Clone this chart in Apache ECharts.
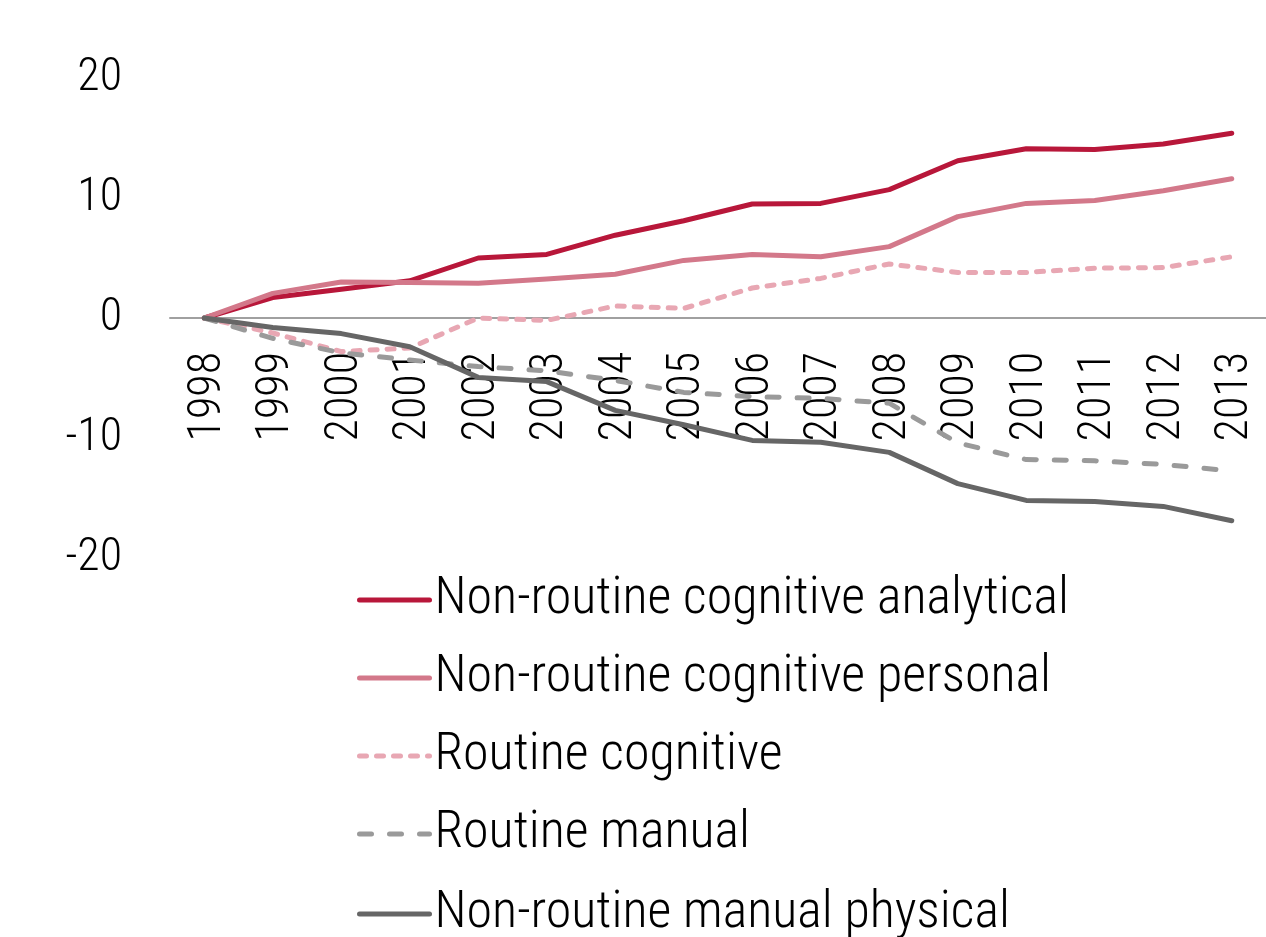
<!DOCTYPE html>
<html>
<head>
<meta charset="utf-8">
<script src="https://cdn.jsdelivr.net/npm/echarts@6/dist/echarts.min.js"></script>
<style>
html,body{margin:0;padding:0;background:#fff;}
#chart{width:1266px;height:937px;}
</style>
</head>
<body>
<div id="chart"></div>
<script>
const years = ['1998','1999','2000','2001','2002','2003','2004','2005','2006','2007','2008','2009','2010','2011','2012','2013'];
const nrAnalytical = [0, 1.7, 2.4, 3.1, 5.0, 5.3, 6.9, 8.1, 9.5, 9.55, 10.7, 13.1, 14.1, 14.05, 14.5, 15.4];
const nrPersonal = [0, 2.05, 3.0, 2.95, 2.9, 3.25, 3.65, 4.8, 5.3, 5.1, 5.95, 8.45, 9.55, 9.8, 10.6, 11.6];
const routineCognitive = [0, -1.25, -2.8, -2.5, 0, -0.2, 1.0, 0.8, 2.5, 3.3, 4.5, 3.8, 3.8, 4.15, 4.2, 5.1];
const routineManual = [0, -1.7, -2.9, -3.5, -4.05, -4.4, -5.2, -6.2, -6.55, -6.7, -7.1, -10.4, -11.8, -11.9, -12.2, -12.75];
const nrManualPhysical = [0, -0.8, -1.3, -2.4, -4.95, -5.3, -7.7, -8.9, -10.2, -10.35, -11.2, -13.8, -15.2, -15.3, -15.7, -16.9];
const seriesNames = ['Non-routine cognitive analytical','Non-routine cognitive personal','Routine cognitive','Routine manual','Non-routine manual physical'];
const yTicks = [-20, -10, 0, 10, 20];

const FONT = "'Roboto Condensed', 'DejaVu Sans Condensed', Roboto, sans-serif";

function mk(name, data, color, dash) {
  return {
    name: name, type: 'line', data: data, symbol: 'none', smooth: false,
    lineStyle: { color: color, width: 5, type: dash || 'solid', cap: 'round', join: 'round' },
    itemStyle: { color: color }
  };
}

const legendCommon = {
  orient: 'vertical', left: 357, padding: 0, itemWidth: 70, itemHeight: 14, itemGap: 22,
  itemStyle: { opacity: 0 },
  lineStyle: { width: 5, cap: 'round' },
  textStyle: { fontSize: 52, fontWeight: 300, fontFamily: FONT, color: '#000', lineHeight: 56 }
};

const chart = echarts.init(document.getElementById('chart'), null, { renderer: 'canvas' });
chart.setOption({
  animation: false,
  backgroundColor: '#fff',
  grid: { left: 170, right: -11, top: 78, bottom: 379, containLabel: false },
  xAxis: {
    type: 'category', data: years, boundaryGap: true,
    axisLine: { onZero: true, lineStyle: { color: '#a0a0a0', width: 2 } },
    axisTick: { show: false },
    axisLabel: {
      rotate: 90, margin: -206, color: '#000', fontSize: 46, fontWeight: 300, fontFamily: FONT, interval: 0,
      formatter: function (v) { return '{y|' + v + '}'; },
      rich: { y: { fontSize: 46, fontWeight: 300, fontFamily: FONT, color: '#000', padding: [8, 0, 0, 0] } }
    }
  },
  yAxis: {
    type: 'value', min: yTicks[0], max: yTicks[yTicks.length - 1], interval: 10,
    axisLine: { show: false }, axisTick: { show: false }, splitLine: { show: false },
    axisLabel: { margin: 48, color: '#000', fontSize: 46, fontWeight: 300, fontFamily: FONT }
  },
  legend: [
    Object.assign({ top: 572, data: seriesNames.slice(0, 4) }, legendCommon),
    Object.assign({ top: 886, data: seriesNames.slice(4) }, legendCommon)
  ],
  series: [
    mk(seriesNames[0], nrAnalytical, '#B8173A'),
    mk(seriesNames[1], nrPersonal, '#D3788A'),
    mk(seriesNames[2], routineCognitive, '#E8A7B3', [7, 10]),
    mk(seriesNames[3], routineManual, '#9A9A9A', [12, 18]),
    mk(seriesNames[4], nrManualPhysical, '#666666')
  ]
});
</script>
</body>
</html>
